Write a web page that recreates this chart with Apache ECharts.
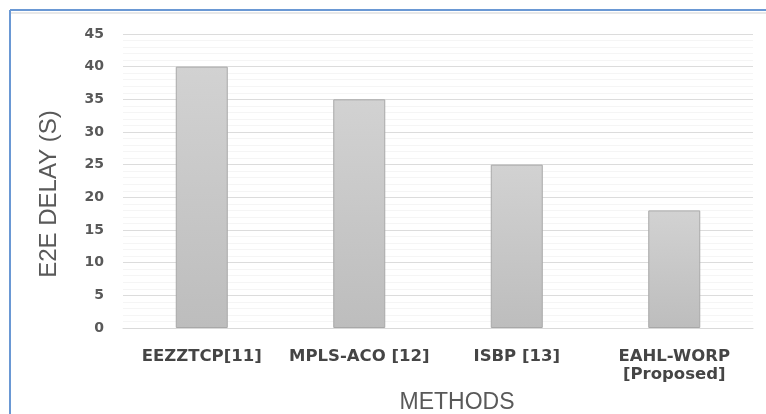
<!DOCTYPE html>
<html><head><meta charset="utf-8">
<script src="https://cdn.jsdelivr.net/npm/echarts@6/dist/echarts.min.js"></script>
<style>html,body{margin:0;padding:0;background:#fff;overflow:hidden}#c{width:766px;height:414px}</style>
</head><body><div id="c"></div>
<script>
const categories = ['EEZZTCP[11]', 'MPLS-ACO [12]', 'ISBP [13]', 'EAHL-WORP\n[Proposed]'];
const delays = [40, 35, 25, 18];
const yTicks = [0, 45, 5];
const yName = 'E2E DELAY (S)';
const xName = 'METHODS';
const chart = echarts.init(document.getElementById('c'));
chart.setOption({
  animation: false,
  graphic: [
    { type: 'line', shape: { x1: 10, y1: 10, x2: 766, y2: 10 }, style: { stroke: '#6a98d4', lineWidth: 2 } },
    { type: 'line', shape: { x1: 11, y1: 13, x2: 766, y2: 13 }, style: { stroke: '#e8e8e8', lineWidth: 2 } },
    { type: 'line', shape: { x1: 10, y1: 10, x2: 10, y2: 414 }, style: { stroke: '#6a98d4', lineWidth: 2 } },
    { type: 'text', x: 49, y: 194, rotation: Math.PI / 2,
      style: { text: yName, fill: '#595959', font: '24px "Liberation Sans"', align: 'center', verticalAlign: 'middle' } },
    { type: 'text', x: 457, y: 403,
      style: { text: xName, fill: '#595959', font: '23px "Liberation Sans"', align: 'center', verticalAlign: 'middle' } }
  ],
  grid: { left: 123, right: 13, top: 34, bottom: 86 },
  xAxis: {
    type: 'category', data: categories,
    axisLine: { lineStyle: { color: '#d9d9d9', width: 1 } },
    axisTick: { show: false },
    axisLabel: { color: '#454545', fontWeight: 'bold', fontSize: 16.5, fontFamily: 'DejaVu Sans', margin: 20, lineHeight: 18, interval: 0 }
  },
  yAxis: {
    type: 'value', min: yTicks[0], max: yTicks[1], interval: yTicks[2],
    axisLine: { show: false }, axisTick: { show: false },
    axisLabel: { color: '#595959', fontWeight: 'bold', fontSize: 14, fontFamily: 'DejaVu Sans', margin: 19 },
    splitLine: { lineStyle: { color: '#dcdcdc', width: 1 } },
    minorTick: { show: false, splitNumber: 5 },
    minorSplitLine: { show: true, lineStyle: { color: '#f5f5f5', width: 1 } }
  },
  series: [{
    type: 'bar', data: delays, barWidth: 52,
    itemStyle: {
      color: new echarts.graphic.LinearGradient(0, 0, 0, 1, [
        { offset: 0, color: '#d2d2d2' }, { offset: 1, color: '#bdbdbd' }
      ]),
      borderColor: '#a8a8a8', borderWidth: 1
    }
  }]
});
</script></body></html>
